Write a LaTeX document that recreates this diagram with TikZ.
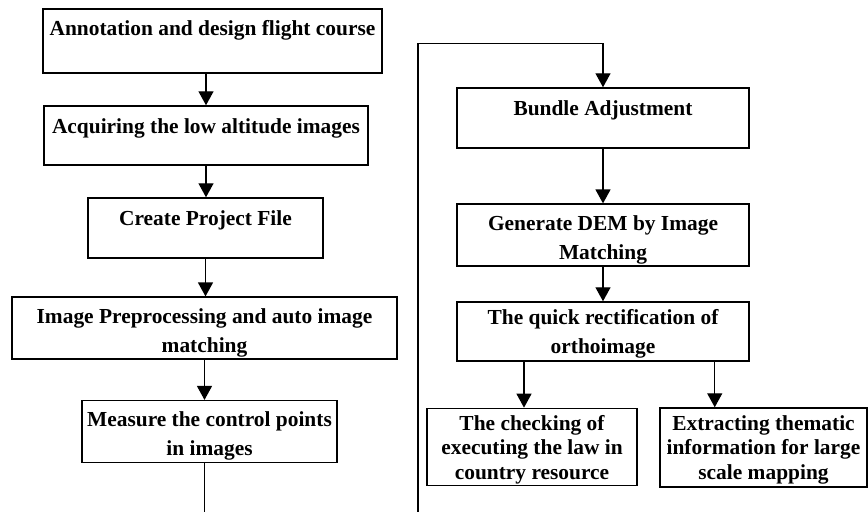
\documentclass[tikz,border=0pt]{standalone}
\usepackage{fontspec}
\setmainfont{Liberation Serif}
\usetikzlibrary{positioning, arrows.meta, calc}
\newcommand{\tstrut}[1][12pt]{\rule{0pt}{#1}}
\tikzset{
  flowbox/.style={
    draw=black, line width=0.75pt,
    inner sep=1pt,
    align=center,
    minimum height=30pt,
    font=\fontsize{10.7}{14.5}\selectfont\bfseries
  },
  leafbox/.style={
    flowbox,
    minimum height=38pt,
    font=\fontsize{10.7}{12.25}\selectfont\bfseries
  },
  flow/.style={
    -{Triangle[length=7pt,width=7.5pt]},
    line width=0.7pt
  },
  backline/.style={
    line width=0.7pt
  }
}

\begin{document}
\begin{tikzpicture}[x=0.5pt, y=-0.5pt]
  \useasboundingbox (0,0) rectangle (868,511);

  % left column
  \node[flowbox, minimum width=169.5pt, minimum height=32pt] (annot) at (212.5,41) {\tstrut[9pt]Annotation and design flight course\\\mbox{}};
  \node[flowbox, minimum width=162pt, minimum height=29.5pt] (acquire) at (206,135.5) {\tstrut Acquiring the low altitude images\\\mbox{}};
  \node[flowbox, minimum width=117.5pt] (project) at (205.5,228) {\tstrut Create Project File\\\mbox{}};
  \node[flowbox, minimum width=192.5pt] (preproc) at (204.5,328) {\tstrut Image Preprocessing and auto image\\matching};
  \node[flowbox, minimum width=127.5pt, minimum height=30.5pt] (control) at (209.5,431.5) {\tstrut Measure the control points\\in images};

  % right column
  \node[flowbox, minimum width=146pt] (bundle) at (603,118) {\tstrut Bundle Adjustment\\\mbox{}};
  \node[flowbox, minimum width=146pt] (dem) at (603,235) {\tstrut Generate DEM by Image\\Matching};
  \node[flowbox, minimum width=146pt, minimum height=29.5pt] (ortho) at (603,331.5) {\tstrut[10pt]The quick rectification of\\orthoimage};
  \node[leafbox, minimum width=105pt] (law) at (532,447) {\tstrut[9.8pt]The checking of\\executing the law in\\country resource};
  \node[leafbox, minimum width=103.5pt, minimum height=39.5pt] (thematic) at (763.5,447.5) {\tstrut[9.8pt]Extracting thematic\\information for large\\scale mapping};

  % connectors
  \draw[flow] (acquire.north |- annot.south) -- (acquire.north);
  \draw[flow] (acquire.south) -- (project.north -| acquire.south);
  \draw[flow] (project.south) -- (preproc.north -| project.south);
  \draw[flow] (preproc.south) -- (control.north -| preproc.south);

  \coordinate (loopL) at (418,540);
  \coordinate (loopT) at (418,43.5);
  \draw[backline] ([xshift=-2.5pt]control.south) |- (loopL);
  \draw[flow] (loopL) -- (loopT) -| (bundle.north);

  \draw[flow] (bundle.south) -- (dem.north);
  \draw[flow] (dem.south) -- (ortho.north);
  \draw[flow] ([xshift=-4pt]law.north |- ortho.south) -- ([xshift=-4pt]law.north);
  \draw[flow] ([xshift=-17.5pt]ortho.south east) -- ([xshift=-17.5pt]ortho.south east |- thematic.north);
\end{tikzpicture}
\end{document}
